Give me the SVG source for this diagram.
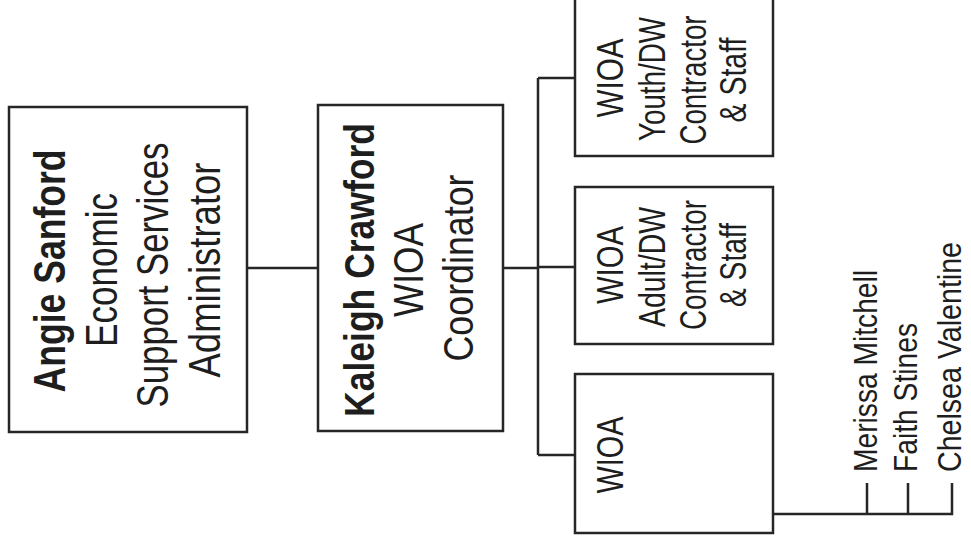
<svg xmlns="http://www.w3.org/2000/svg" width="971" height="544" viewBox="0 0 971 544">
<style>
.box{fill:#fff;stroke:#262626;stroke-width:2.5}
.ln{fill:none;stroke:#262626;stroke-width:2.5}
text{font-family:"Liberation Sans",Arial,sans-serif;fill:#1e1e1e;text-anchor:middle}
.b{font-weight:bold}
.l{font-size:44px}
.m{font-size:42px}
.s{font-size:36px}
.n{font-size:34px;text-anchor:start}
</style>
<rect width="971" height="544" fill="#fff"/>
<g id="connectors">
<path class="ln" d="M247,268 H318"/>
<path class="ln" d="M503,268 H538"/>
<path class="ln" d="M538,78 V455"/>
<path class="ln" d="M538,78 H575 M538,267 H575 M538,455 H575"/>
<path class="ln" d="M773,514 H952 V483 M867,514 V483 M908,514 V483"/>
</g>
<g id="angie">
<rect class="box" x="9" y="107" width="238" height="325"/>
<text class="l b" transform="translate(65,271) rotate(-90)" textLength="243" lengthAdjust="spacingAndGlyphs">Angie Sanford</text>
<text class="l" transform="translate(117,270) rotate(-90)" textLength="154" lengthAdjust="spacingAndGlyphs">Economic</text>
<text class="l" transform="translate(168,275) rotate(-90)" textLength="265" lengthAdjust="spacingAndGlyphs">Support Services</text>
<text class="l" transform="translate(220,270) rotate(-90)" textLength="215" lengthAdjust="spacingAndGlyphs">Administrator</text>
</g>
<g id="kaleigh">
<rect class="box" x="318" y="105" width="185" height="326"/>
<text class="m b" transform="translate(374,270) rotate(-90)" textLength="294" lengthAdjust="spacingAndGlyphs">Kaleigh Crawford</text>
<text class="m" transform="translate(423,270) rotate(-90)" textLength="94" lengthAdjust="spacingAndGlyphs">WIOA</text>
<text class="m" transform="translate(473,268) rotate(-90)" textLength="187" lengthAdjust="spacingAndGlyphs">Coordinator</text>
</g>
<g id="youth">
<rect class="box" x="575" y="-3" width="198" height="159"/>
<text class="s" transform="translate(623,78) rotate(-90)" textLength="79" lengthAdjust="spacingAndGlyphs">WIOA</text>
<text class="s" transform="translate(665,79) rotate(-90)" textLength="124" lengthAdjust="spacingAndGlyphs">Youth/DW</text>
<text class="s" transform="translate(706,80) rotate(-90)" textLength="129" lengthAdjust="spacingAndGlyphs">Contractor</text>
<text class="s" transform="translate(746,80) rotate(-90)" textLength="85" lengthAdjust="spacingAndGlyphs">&amp; Staff</text>
</g>
<g id="adult">
<rect class="box" x="575" y="187" width="198" height="157"/>
<text class="s" transform="translate(623,265) rotate(-90)" textLength="78" lengthAdjust="spacingAndGlyphs">WIOA</text>
<text class="s" transform="translate(665,267) rotate(-90)" textLength="120" lengthAdjust="spacingAndGlyphs">Adult/DW</text>
<text class="s" transform="translate(706,265) rotate(-90)" textLength="130" lengthAdjust="spacingAndGlyphs">Contractor</text>
<text class="s" transform="translate(746,265) rotate(-90)" textLength="84" lengthAdjust="spacingAndGlyphs">&amp; Staff</text>
</g>
<g id="wioa">
<rect class="box" x="575" y="374" width="198" height="159"/>
<text class="s" transform="translate(623,455) rotate(-90)" textLength="77" lengthAdjust="spacingAndGlyphs">WIOA</text>
</g>
<g id="staff">
<text class="n" transform="translate(877,472) rotate(-90)" textLength="202" lengthAdjust="spacingAndGlyphs">Merissa Mitchell</text>
<text class="n" transform="translate(917,472) rotate(-90)" textLength="149" lengthAdjust="spacingAndGlyphs">Faith Stines</text>
<text class="n" transform="translate(961,472) rotate(-90)" textLength="230" lengthAdjust="spacingAndGlyphs">Chelsea Valentine</text>
</g>
</svg>
